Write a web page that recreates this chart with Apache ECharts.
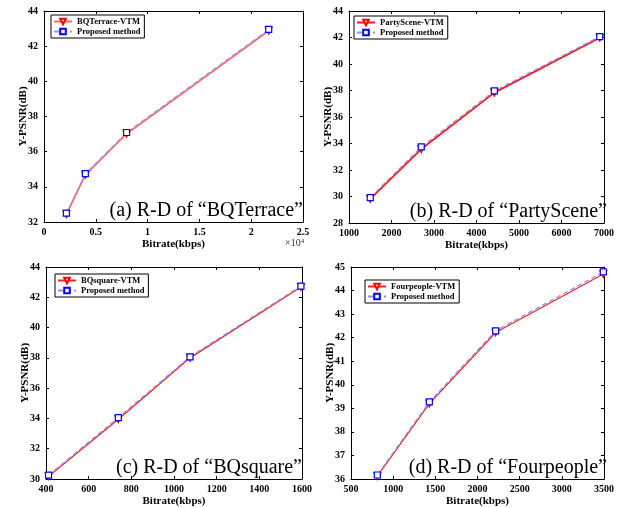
<!DOCTYPE html>
<html>
<head>
<meta charset="utf-8">
<script src="https://cdn.jsdelivr.net/npm/echarts@6/dist/echarts.min.js"></script>
<style>html,body{margin:0;padding:0;background:#fff}#c{width:617px;height:508px}</style>
</head>
<body>
<div id="c"></div>
<script>
// ---- data ----
const aBitrate = [2160, 3990, 7970, 21690];
const aVTM     = [32.44, 34.68, 37.02, 42.88];
const aProp    = [32.50, 34.75, 37.09, 42.95];

const bBitrate = [1500, 2700, 4420, 6900];
const bVTM     = [29.82, 33.58, 37.84, 41.98];
const bProp    = [29.92, 33.74, 37.97, 42.07];

const cBitrate = [412, 739, 1075, 1595];
const cVTM     = [30.18, 33.95, 38.00, 42.68];
const cProp    = [30.25, 34.05, 38.07, 42.74];

const dBitrate = [812, 1429, 2215, 3492];
const dVTM     = [36.12, 39.20, 42.22, 44.70];
const dProp    = [36.17, 39.27, 42.29, 44.79];

const seqNames = ["BQTerrace", "PartyScene", "BQsquare", "Fourpeople"];
const panelTags = ["(a)", "(b)", "(c)", "(d)"];
const xRanges = [[0, 25000, 5000], [1000, 7000, 1000], [400, 1600, 200], [500, 3500, 500]];
const yRanges = [[32, 44, 2], [28, 44, 2], [30, 44, 2], [36, 45, 1]];
const xName = "Bitrate(kbps)";
const yName = "Y-PSNR(dB)";
const propName = "Proposed method";

// ---- layout ----
const grids = [
  {left: 44, top: 11, width: 259, height: 211},
  {left: 349, top: 11, width: 258, height: 212},
  {left: 46, top: 267, width: 256, height: 212},
  {left: 351, top: 267, width: 256, height: 212}
];
const legendPos = [
  {left: 51, top: 15},
  {left: 354, top: 16},
  {left: 55, top: 274},
  {left: 365, top: 280}
];
const serif = "'Liberation Serif', 'Times New Roman', serif";
const redLine = ['#ff6a6a', '#ff1a1a', '#ff2020', '#ff2020'];
const redW = [1.8, 1.8, 1.3, 1.2];
const blueLine = ['#9a9aff', '#8c8cff', '#8c8cff', '#8c8cff'];

const allX = [aBitrate, bBitrate, cBitrate, dBitrate];
const allV = [aVTM, bVTM, cVTM, dVTM];
const allP = [aProp, bProp, cProp, dProp];

const xAxes = [], yAxes = [], series = [], legends = [], graphics = [];
const tickLab = {fontFamily: serif, fontWeight: 'bold', fontSize: 10, color: '#000'};
grids.forEach((g, i) => {
  const [xmin, xmax, xint] = xRanges[i];
  const [ymin, ymax, yint] = yRanges[i];
  xAxes.push({
    gridIndex: i, type: 'value', position: 'bottom', min: xmin, max: xmax, interval: xint,
    name: xName, nameLocation: 'middle', nameGap: 17, nameMoveOverlap: false,
    nameTextStyle: {fontFamily: serif, fontWeight: 'bold', fontSize: 11, color: '#000'},
    axisLine: {show: true, onZero: false, lineStyle: {color: '#000', width: 1}},
    axisTick: {show: true, inside: true, length: 3, lineStyle: {color: '#000'}},
    axisLabel: Object.assign({margin: 5, formatter: i === 0 ? (v => String(v / 10000)) : (v => String(v))}, tickLab),
    splitLine: {show: false}
  });
  xAxes.push({
    gridIndex: i, type: 'value', position: 'top', min: xmin, max: xmax, interval: xint,
    axisLine: {show: true, onZero: false, lineStyle: {color: '#000', width: 1}},
    axisTick: {show: true, inside: true, length: 3, lineStyle: {color: '#000'}},
    axisLabel: {show: false}, splitLine: {show: false}
  });
  yAxes.push({
    gridIndex: i, type: 'value', position: 'left', min: ymin, max: ymax, interval: yint,
    name: yName, nameLocation: 'middle', nameGap: 15, nameRotate: 90, nameMoveOverlap: false,
    nameTextStyle: {fontFamily: serif, fontWeight: 'bold', fontSize: 11, color: '#000'},
    axisLine: {show: true, onZero: false, lineStyle: {color: '#000', width: 1}},
    axisTick: {show: true, inside: true, length: 3, lineStyle: {color: '#000'}},
    axisLabel: Object.assign({margin: 6}, tickLab),
    splitLine: {show: false}
  });
  yAxes.push({
    gridIndex: i, type: 'value', position: 'right', min: ymin, max: ymax, interval: yint,
    axisLine: {show: true, onZero: false, lineStyle: {color: '#000', width: 1}},
    axisTick: {show: true, inside: true, length: 3, lineStyle: {color: '#000'}},
    axisLabel: {show: false}, splitLine: {show: false}
  });
  const vtmName = seqNames[i] + '-VTM';
  const xs = allX[i];
  series.push({
    name: vtmName, type: 'line', xAxisIndex: 2 * i, yAxisIndex: 2 * i,
    data: xs.map((x, k) => [x, allV[i][k]]),
    symbol: 'triangle', symbolRotate: 180, symbolSize: 7,
    lineStyle: {color: redLine[i], width: redW[i]},
    itemStyle: {color: '#fff', borderColor: '#ff0000', borderWidth: 1.2},
    z: 2
  });
  series.push({
    name: propName + ' ' + panelTags[i], type: 'line', xAxisIndex: 2 * i, yAxisIndex: 2 * i,
    data: xs.map((x, k) => [x, allP[i][k]]),
    symbol: 'rect', symbolSize: 6,
    lineStyle: {color: blueLine[i], width: 1.2, type: [5, 3]},
    itemStyle: {color: '#fff', borderColor: '#0000ff', borderWidth: 1.2},
    z: 3
  });
  legends.push({
    orient: 'vertical', left: legendPos[i].left, top: legendPos[i].top,
    data: [vtmName, propName + ' ' + panelTags[i]],
    formatter: n => n.indexOf(propName) === 0 ? propName : n,
    borderColor: '#000', borderWidth: 1, padding: [2, 4, 2, 2], itemGap: 1,
    itemWidth: 18, itemHeight: 7, selectedMode: false,
    textStyle: {fontFamily: serif, fontWeight: 'bold', fontSize: 8.5, color: '#000'}
  });
  graphics.push({
    type: 'text', z: 10,
    x: g.left + g.width, y: g.top + g.height - 1,
    style: {
      text: panelTags[i] + ' R-D of \u201c' + seqNames[i] + '\u201d',
      font: '20px ' + serif, fill: '#000', align: 'right', verticalAlign: 'bottom'
    }
  });
});
graphics.push({
  type: 'text', x: 285, y: 238,
  style: {
    text: '\u00d710{s|4}', font: '10px ' + serif, fill: '#333',
    rich: {s: {fontSize: 7, fontFamily: serif, verticalAlign: 'top', padding: [0, 0, 4, 0]}}
  }
});

const chart = echarts.init(document.getElementById('c'), null, {renderer: 'canvas'});
chart.setOption({
  backgroundColor: '#fff',
  animation: false,
  grid: grids.map(g => Object.assign({containLabel: false}, g)),
  xAxis: xAxes, yAxis: yAxes, series: series, legend: legends, graphic: graphics
});
</script>
</body>
</html>
